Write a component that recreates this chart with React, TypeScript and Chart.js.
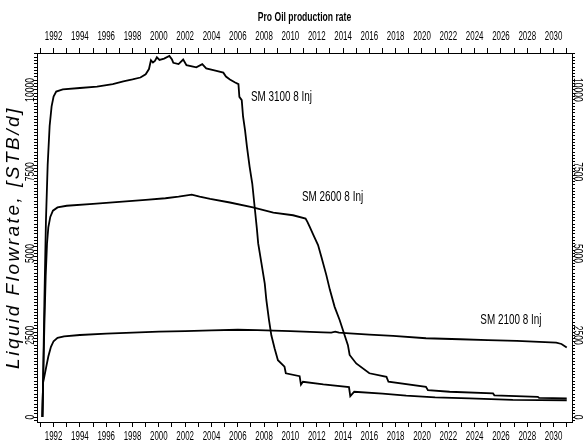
import React, { useEffect, useRef } from 'react';
import { Chart, registerables } from 'chart.js';

Chart.register(...registerables);

// ---- data (years, liquid rate STB/d) ----
const years3100 = [
  1991.15, 1991.2, 1991.3, 1991.42, 1991.55, 1991.7, 1991.85, 1992.0, 1992.2, 1992.7,
  1994.0, 1995.3, 1996.5, 1997.3, 1998.0, 1998.6, 1999.0, 1999.25, 1999.4, 1999.55,
  1999.7, 1999.85, 2000.05, 2000.4, 2000.8, 2001.0, 2001.1, 2001.5, 2001.85, 2002.1,
  2002.85, 2003.3, 2003.6, 2004.3, 2004.9, 2005.1, 2005.4, 2005.8, 2006.05, 2006.12,
  2006.3, 2006.4, 2006.55, 2006.7, 2006.9, 2007.1, 2007.28, 2007.45, 2007.55, 2007.8,
  2008.05, 2008.17, 2008.37, 2008.55, 2008.8, 2009.05, 2009.55, 2009.65, 2010.7, 2010.8,
  2010.95, 2012.5, 2014.45, 2014.55, 2014.85, 2017.0, 2018.8, 2021.0, 2023.6, 2026.9,
  2031.0,
];
const rate3100 = [
  0, 1000, 3500, 6000, 7700, 8900, 9500, 9800, 9950, 10020,
  10060, 10100, 10180, 10260, 10320, 10380, 10480, 10640, 10910, 10840,
  10890, 11000, 10920, 10960, 11040, 10930, 10830, 10790, 10930, 10760,
  10690, 10790, 10660, 10590, 10530, 10410, 10320, 10230, 10180, 9790,
  9690, 9190, 8770, 8250, 7650, 7140, 6430, 5760, 5310, 4700,
  4080, 3580, 2970, 2500, 2100, 1740, 1540, 1340, 1250, 990,
  1080, 1000, 920, 640, 775, 715, 655, 605, 570, 525,
  515,
];

const years2600 = [
  1991.15, 1991.2, 1991.3, 1991.4, 1991.5, 1991.6, 1991.75, 1991.95, 1992.3, 1993.0,
  1995.0, 1997.0, 1999.0, 2000.5, 2001.5, 2002.5, 2003.1, 2003.9, 2005.4, 2007.15,
  2008.7, 2010.2, 2011.15, 2011.3, 2011.46, 2011.75, 2012.1, 2012.35, 2012.73, 2013.0,
  2013.36, 2013.74, 2014.12, 2014.37, 2014.5, 2015.0, 2016.0, 2017.3, 2017.45, 2020.3,
  2020.45, 2022.1, 2025.4, 2025.5, 2028.8, 2028.9, 2031.0,
];
const rate2600 = [
  0, 1000, 2800, 4300, 5300, 5800, 6120, 6310, 6410, 6460,
  6520, 6580, 6640, 6690, 6740, 6800, 6740, 6670, 6560, 6410,
  6250, 6170, 6070, 5960, 5820, 5560, 5260, 4900, 4340, 3890,
  3370, 2970, 2500, 2200, 1900, 1640, 1340, 1230, 1080, 925,
  825, 775, 725, 665, 620, 585, 570,
];

const years2100 = [
  1991.15, 1991.2, 1991.3, 1991.45, 1991.6, 1991.8, 1992.0, 1992.3, 1992.8, 1994.0,
  1996.0, 1998.0, 2000.0, 2002.0, 2004.0, 2006.0, 2007.5, 2010.0, 2012.5, 2013.1,
  2013.4, 2013.7, 2014.5, 2016.0, 2017.8, 2020.3, 2022.9, 2025.0, 2027.2, 2030.2,
  2030.6, 2031.0,
];
const rate2100 = [
  0, 1050, 1250, 1550, 1850, 2150, 2320, 2420, 2470, 2510,
  2550, 2580, 2610, 2630, 2650, 2670, 2660, 2630, 2590, 2585,
  2610, 2580, 2560, 2520, 2480, 2410, 2380, 2355, 2330, 2275,
  2235, 2130,
];

const seriesNames = ['SM 3100 8 Inj', 'SM 2600 8 Inj', 'SM 2100 8 Inj'];
const seriesYears = [years3100, years2600, years2100];
const seriesRates = [rate3100, rate2600, rate2100];
const labelYears = [2007.0, 2010.88, 2024.43];
const labelRates = [9795, 6729, 2968];

const chartTitle = 'Pro Oil production rate';
const yTitle = 'Liquid Flowrate, [STB/d]';
const xRange = [1990.74, 2031.4];
const yRange = [-150, 11130];
const xLabelEvery = 2;
const yLabelEvery = 2500;

// "Narrow" marks text that is drawn horizontally condensed (the original uses squeezed type)
const NARROW = "'Arial Narrow', 'Liberation Sans', Arial, sans-serif";
const REGULAR = "'Liberation Sans', Arial, sans-serif";
const SQUEEZE = 0.66;

const textStylePlugin = {
  id: 'textStyle',
  beforeDraw(chart: any) {
    const ctx = chart.ctx as any;
    if (ctx.__origFillText) return;
    const orig = ctx.fillText;
    ctx.__origFillText = orig;
    ctx.fillText = function (text: string, x: number, y: number, maxWidth?: number) {
      const f = String(ctx.font);
      if (f.indexOf('Narrow') >= 0) {
        ctx.save();
        ctx.translate(x, y);
        ctx.scale(SQUEEZE, 1);
        orig.call(ctx, text, 0, 0);
        ctx.restore();
      } else if (f.indexOf('italic') >= 0) {
        ctx.save();
        ctx.letterSpacing = '2.5px';
        orig.call(ctx, text, x, y);
        ctx.restore();
      } else if (maxWidth !== undefined) {
        orig.call(ctx, text, x, y, maxWidth);
      } else {
        orig.call(ctx, text, x, y);
      }
    };
  },
  afterDraw(chart: any) {
    const ctx = chart.ctx as any;
    if (ctx.__origFillText) {
      ctx.fillText = ctx.__origFillText;
      delete ctx.__origFillText;
    }
  },
};

const seriesLabelPlugin = {
  id: 'seriesLabels',
  afterDatasetsDraw(chart: any) {
    const { ctx, scales } = chart;
    const xs = scales.x;
    const ys = scales.y;
    ctx.save();
    ctx.font = `15px ${NARROW}`;
    ctx.fillStyle = '#000';
    ctx.textAlign = 'left';
    ctx.textBaseline = 'middle';
    seriesNames.forEach((n, i) => {
      ctx.fillText(n, xs.getPixelForValue(labelYears[i]), ys.getPixelForValue(labelRates[i]));
    });
    ctx.restore();
  },
};

export default function App() {
  const ref = useRef<HTMLCanvasElement | null>(null);

  useEffect(() => {
    if (!ref.current) return;
    Chart.defaults.color = '#000';

    const meas = document.createElement('canvas').getContext('2d')!;
    meas.font = `13px ${NARROW}`;
    const widest = meas.measureText('10000').width;

    const xTickCb = (v: any) => {
      const n = Number(v);
      return Math.abs(n - Math.round(n)) < 1e-6 && Math.round(n) % xLabelEvery === 0 ? String(Math.round(n)) : '';
    };
    const yTickCb = (v: any) => {
      const n = Math.round(Number(v));
      return n % yLabelEvery === 0 ? String(n) : '';
    };

    const xGrid = { display: true, drawOnChartArea: false, drawTicks: true, tickLength: 5, color: '#000', lineWidth: 1 };
    const yGrid = { display: true, drawOnChartArea: false, drawTicks: true, tickLength: 3, color: '#000', lineWidth: 1 };
    const border = { display: true, color: '#000', width: 1 };

    const xCommon = { type: 'linear' as const, min: xRange[0], max: xRange[1], grid: xGrid, border };
    const yCommon = { type: 'linear' as const, min: yRange[0], max: yRange[1], grid: yGrid, border };

    const chart = new Chart(ref.current, {
      type: 'line',
      data: {
        datasets: seriesNames.map((name, i) => ({
          label: name,
          data: seriesYears[i].map((x, j) => ({ x, y: seriesRates[i][j] })),
          borderColor: '#000',
          borderWidth: 1.8,
          pointRadius: 0,
          tension: 0,
          fill: false,
          xAxisID: 'x',
          yAxisID: 'y',
        })),
      },
      options: {
        responsive: false,
        animation: false,
        layout: { padding: 0 },
        plugins: {
          legend: { display: false },
          tooltip: { enabled: false },
          title: { display: false },
        },
        scales: {
          x: {
            ...xCommon,
            position: 'bottom',
            ticks: {
              stepSize: 1, autoSkip: false, includeBounds: false, maxRotation: 0, minRotation: 0,
              padding: 2.5,
              font: { family: NARROW, size: 12 },
              callback: xTickCb,
            },
            afterFit: (s: any) => { s.height = 21; },
          },
          x2: {
            ...xCommon,
            position: 'top',
            ticks: {
              stepSize: 1, autoSkip: false, includeBounds: false, maxRotation: 0, minRotation: 0,
              padding: 3.8,
              font: { family: NARROW, size: 12 },
              callback: xTickCb,
            },
            title: {
              display: true,
              text: chartTitle,
              font: { family: NARROW, size: 13, weight: 'bold' },
              padding: { top: 10, bottom: 0 },
            },
            afterFit: (s: any) => { s.height = 53; },
          },
          y: {
            ...yCommon,
            position: 'left',
            ticks: {
              stepSize: 100, autoSkip: false, includeBounds: false,
              minRotation: 90, maxRotation: 90,
              crossAlign: 'center',
              padding: 3.5 - widest / 2,
              font: { family: NARROW, size: 13 },
              callback: yTickCb,
            },
            title: {
              display: true,
              text: yTitle,
              font: { family: REGULAR, size: 19, style: 'italic' },
              padding: { top: 2, bottom: 0 },
            },
            afterFit: (s: any) => { s.width = 37; },
          },
          y2: {
            ...yCommon,
            position: 'right',
            ticks: {
              stepSize: 100, autoSkip: false, includeBounds: false,
              minRotation: -90, maxRotation: 90,
              crossAlign: 'center',
              padding: 3 - widest / 2,
              font: { family: NARROW, size: 13 },
              callback: yTickCb,
            },
            afterFit: (s: any) => { s.width = 14; },
          },
        },
      } as any,
      plugins: [textStylePlugin, seriesLabelPlugin],
    });

    return () => chart.destroy();
  }, []);

  return (
    <div style={{ position: 'fixed', left: 0, top: 0, width: 586, height: 443, background: '#fff' }}>
      <canvas ref={ref} width={586} height={443} style={{ display: 'block' }} />
    </div>
  );
}
